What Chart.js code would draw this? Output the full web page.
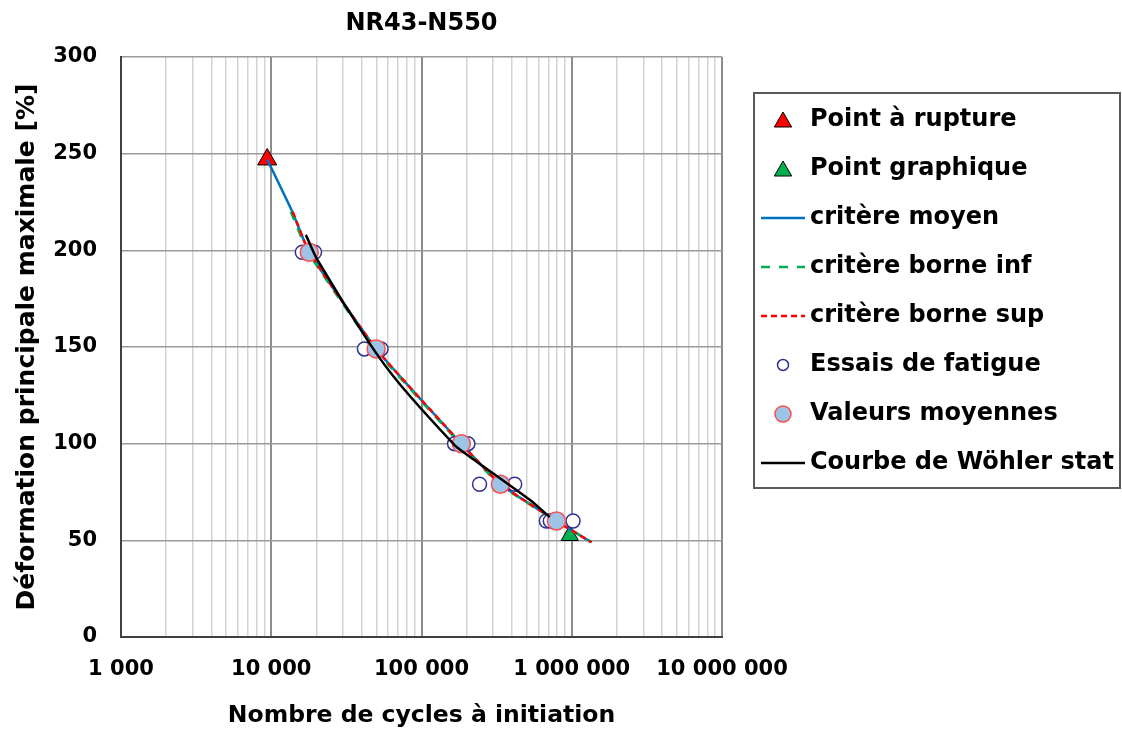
<!DOCTYPE html>
<html><head><meta charset="utf-8">
<script src="https://cdn.jsdelivr.net/npm/chart.js@4.4.1/dist/chart.umd.min.js"></script>
<style>html,body{margin:0;padding:0;background:#fff}canvas{display:block}</style>
</head><body>
<canvas id="c" width="1122" height="734"></canvas>
<script>
// ---- data ----
const ruptureN = [9400];
const ruptureDef = [247];
const graphiqueN = [970000];
const graphiqueDef = [52.5];
const moyenN = [9400, 13800, 17900, 49900, 184000, 335000, 791000, 1350000];
const moyenDef = [247, 220, 199, 149, 100, 79, 60, 49];
const infN = [13500, 17600, 49000, 181000, 330000, 785000, 1360000];
const infDef = [220, 199, 149, 100, 79, 60, 49];
const supN = [13900, 17900, 50000, 184000, 336000, 792000, 1350000];
const supDef = [220, 199, 149, 100, 79, 60, 49];
const essaisN = [16100, 19400, 41700, 53800, 166000, 203500, 243500, 417000, 678000, 720000, 1020000];
const essaisDef = [199, 199, 149, 149, 100, 100, 79, 79, 60, 60, 60];
const moyennesN = [17900, 49900, 184000, 335000, 791000];
const moyennesDef = [199, 149, 100, 79, 60];
const statN = [17000, 20300, 45000, 71300, 166000, 193500, 525000, 713000];
const statDef = [208, 195, 152, 131, 99.3, 95.2, 71, 62];
const yTicks = [0, 50, 100, 150, 200, 250, 300];
const xDecades = [1000, 10000, 100000, 1000000, 10000000];
const legendLabels = ['Point à rupture', 'Point graphique', 'critère moyen', 'critère borne inf',
  'critère borne sup', 'Essais de fatigue', 'Valeurs moyennes', 'Courbe de Wöhler stat'];

const pts = (xs, ys) => xs.map((x, i) => ({x: x, y: ys[i]}));
const FONT = 'DejaVu Sans';
const isDecade = v => { const l = Math.log10(v); return Math.abs(l - Math.round(l)) < 1e-6; };
const fmt = v => Math.round(v).toString().replace(/\B(?=(\d{3})+(?!\d))/g, ' ');

const datasets = [
  {label: legendLabels[0], data: pts(ruptureN, ruptureDef), showLine: false, pointStyle: 'triangle',
   pointRadius: 11, backgroundColor: '#ff0000', borderColor: '#000', borderWidth: 1, order: 8},
  {label: legendLabels[1], data: pts(graphiqueN, graphiqueDef), showLine: false, pointStyle: 'triangle',
   pointRadius: 10, backgroundColor: '#00b050', borderColor: '#000', borderWidth: 1, order: 7},
  {label: legendLabels[2], data: pts(moyenN, moyenDef), showLine: true, borderColor: '#0070c0',
   borderWidth: 2.5, pointRadius: 0, tension: 0.15, order: 6},
  {label: legendLabels[3], data: pts(infN, infDef), showLine: true, borderColor: '#00b050',
   borderWidth: 2.5, borderDash: [9, 9], pointRadius: 0, tension: 0.15, order: 5},
  {label: legendLabels[4], data: pts(supN, supDef), showLine: true, borderColor: '#ff0000',
   borderWidth: 2.5, borderDash: [6, 4], pointRadius: 0, tension: 0.15, order: 4},
  {label: legendLabels[5], data: pts(essaisN, essaisDef), showLine: false, pointStyle: 'circle',
   pointRadius: 7, backgroundColor: '#ffffff', borderColor: '#2e3192', borderWidth: 1.5, order: 3},
  {label: legendLabels[6], data: pts(moyennesN, moyennesDef), showLine: false, pointStyle: 'circle',
   pointRadius: 9, backgroundColor: '#9dc3e6', borderColor: '#ff4d4d', borderWidth: 1.5, order: 2},
  {label: legendLabels[7], data: pts(statN, statDef), showLine: true, borderColor: '#000000',
   borderWidth: 2.5, pointRadius: 0, tension: 0.25, order: 1}
];

const legendPlugin = {
  id: 'boxLegend',
  afterDraw(chart) {
    const ctx = chart.ctx;
    ctx.save();
    const L = 754, T = 93, R = 1120, B = 488;
    ctx.strokeStyle = '#595959'; ctx.lineWidth = 2;
    ctx.strokeRect(L, T, R - L, B - T);
    const sx = 783, x1 = 761, x2 = 805, tx = 810;
    legendLabels.forEach((lab, i) => {
      const y = 120 + i * 49;
      const ds = datasets[i];
      ctx.save();
      if (i < 2) {
        const r = 10;
        ctx.beginPath();
        for (let k = 0; k < 3; k++) {
          const a = k * 2 * Math.PI / 3;
          const px = sx + Math.sin(a) * r, py = y + 2 - Math.cos(a) * r;
          k ? ctx.lineTo(px, py) : ctx.moveTo(px, py);
        }
        ctx.closePath();
        ctx.fillStyle = ds.backgroundColor; ctx.fill();
        ctx.strokeStyle = '#000'; ctx.lineWidth = 1; ctx.stroke();
      } else if (i === 5 || i === 6) {
        const r = i === 5 ? 5.5 : 8;
        ctx.beginPath(); ctx.arc(sx, y, r, 0, 2 * Math.PI);
        ctx.fillStyle = ds.backgroundColor; ctx.fill();
        ctx.strokeStyle = ds.borderColor; ctx.lineWidth = 1.5; ctx.stroke();
      } else {
        ctx.beginPath(); ctx.moveTo(x1, y); ctx.lineTo(x2, y);
        ctx.strokeStyle = ds.borderColor; ctx.lineWidth = 2.5;
        ctx.setLineDash(ds.borderDash || []); ctx.stroke();
      }
      ctx.restore();
      ctx.fillStyle = '#000';
      ctx.font = 'bold 24px "' + FONT + '"';
      ctx.textBaseline = 'middle'; ctx.textAlign = 'left';
      ctx.fillText(lab, tx, y);
    });
    ctx.restore();
  }
};

new Chart(document.getElementById('c'), {
  type: 'scatter',
  data: {datasets: datasets},
  plugins: [legendPlugin],
  options: {
    responsive: false, animation: false, events: [],
    layout: {padding: {left: 0, right: 400, top: 0, bottom: 0}},
    plugins: {
      legend: {display: false},
      tooltip: {enabled: false},
      title: {display: true, text: 'NR43-N550', fullSize: false, color: '#000',
        font: {family: FONT, weight: 'bold', size: 24}, padding: {top: 9, bottom: 19.2}}
    },
    scales: {
      x: {
        type: 'logarithmic', min: xDecades[0], max: xDecades[xDecades.length - 1],
        afterBuildTicks: s => {
          const t = [];
          for (let d = 0; d < xDecades.length - 1; d++)
            for (let m = 1; m < 10; m++) t.push({value: m * xDecades[d]});
          t.push({value: xDecades[xDecades.length - 1]});
          s.ticks = t;
        },
        afterFit: s => { s.height = 97; },
        grid: {drawTicks: false,
          color: c => (c.tick && isDecade(c.tick.value)) ? '#8c8c8c' : '#d4d4d4',
          lineWidth: c => (c.tick && isDecade(c.tick.value)) ? 2 : 1.5},
        border: {display: true, color: '#404040', width: 2},
        ticks: {autoSkip: false, maxRotation: 0, minRotation: 0, padding: 20, color: '#000',
          font: {family: FONT, weight: 'bold', size: 21},
          callback: v => isDecade(v) ? fmt(v) : ''},
        title: {display: true, text: 'Nombre de cycles à initiation', color: '#000',
          font: {family: FONT, weight: 'bold', size: 23.5}, padding: {top: 0, bottom: 4}}
      },
      y: {
        min: 0, max: 300,
        afterBuildTicks: s => { s.ticks = yTicks.map(v => ({value: v})); },
        afterFit: s => { s.width = 121; },
        grid: {drawTicks: false, color: '#9a9a9a', lineWidth: 1.5},
        border: {display: true, color: '#404040', width: 2},
        ticks: {padding: 24, color: '#000', font: {family: FONT, weight: 'bold', size: 21}},
        title: {display: true, text: 'Déformation principale maximale [%]', color: '#000',
          font: {family: FONT, weight: 'bold', size: 25}, padding: {top: 12, bottom: 0}}
      }
    }
  }
});
</script>
</body></html>
